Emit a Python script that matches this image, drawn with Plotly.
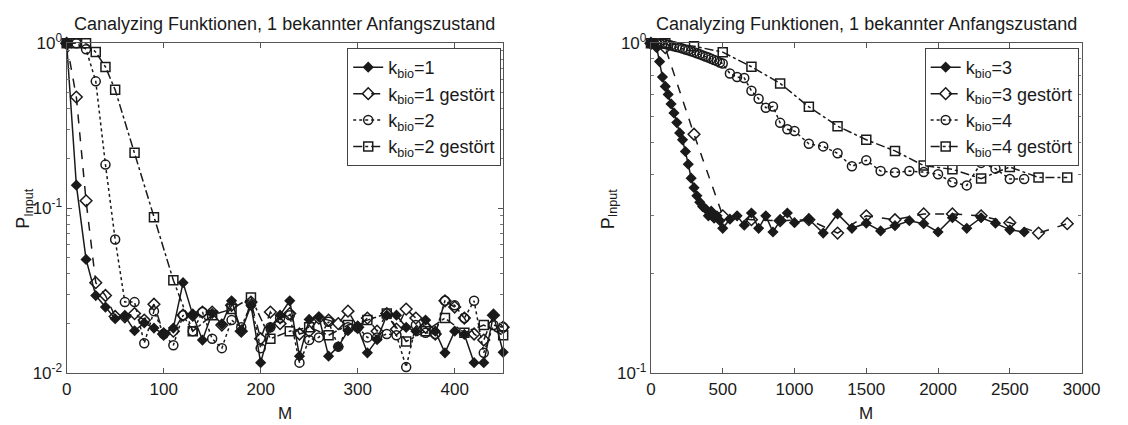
import plotly.graph_objects as go

# ---- left panel: k_bio = 1, 2 ----
m_left = list(range(0, 460, 10))
p_k1 = [1.0, 0.138, 0.049, 0.0296, 0.0252, 0.0214, 0.0222, 0.0181, 0.0202, 0.0188,
        0.0173, 0.0188, 0.0354, 0.0226, 0.0159, 0.0231, 0.0198, 0.0275, 0.018, 0.0258,
        0.0116, 0.019, 0.0225, 0.0275, 0.0127, 0.0212, 0.022, 0.0127, 0.0145, 0.0181,
        0.019, 0.0133, 0.016, 0.0225, 0.0225, 0.019, 0.018, 0.021, 0.018, 0.0133,
        0.018, 0.0172, 0.0116, 0.0116, 0.0225, 0.0134]
p_k1_noisy = [1.0, 0.472, 0.111, 0.0354, 0.0296, 0.0221, 0.022, 0.023, 0.021, 0.0262,
              0.0173, 0.018, 0.0225, 0.0225, 0.0235, 0.0235, 0.0196, 0.0258, 0.018, 0.027,
              0.0162, 0.0235, 0.020, 0.023, 0.0173, 0.018, 0.0216, 0.021, 0.020, 0.0238,
              0.019, 0.0216, 0.018, 0.023, 0.0185, 0.0245, 0.0216, 0.019, 0.0173, 0.0275,
              0.0252, 0.0216, 0.0173, 0.0159, 0.0225, 0.019]
p_k2 = [1.0, 1.0, 0.92, 0.588, 0.184, 0.0647, 0.027, 0.027, 0.0152, 0.0238,
        0.0173, 0.0148, 0.0225, 0.018, 0.0235, 0.0162, 0.0142, 0.021, 0.019, 0.0262,
        0.0142, 0.019, 0.0216, 0.0225, 0.0116, 0.0159, 0.0165, 0.0205, 0.0145, 0.019,
        0.019, 0.0165, 0.0165, 0.0173, 0.017, 0.0109, 0.0196, 0.0176, 0.0173, 0.0275,
        0.0258, 0.0216, 0.0275, 0.0133, 0.0196, 0.019]
m_k2_noisy = [0, 10, 20, 30, 40, 50] + list(range(70, 460, 20))
p_k2_noisy = [1.0, 1.0, 1.0, 0.884, 0.719, 0.522, 0.217, 0.0882, 0.0366, 0.018,
              0.0225, 0.0245, 0.0288, 0.0162, 0.018, 0.019, 0.017, 0.0196, 0.021, 0.023,
              0.0156, 0.018, 0.0216, 0.0176, 0.0196, 0.017]

# ---- right panel: k_bio = 3, 4 ----
m_right = list(range(0, 520, 20)) + list(range(550, 1050, 50)) + list(range(1100, 2700, 100))
p_k3 = [1.0, 1.0, 0.97, 0.88, 0.79, 0.74, 0.70, 0.655, 0.615, 0.575,
        0.535, 0.51, 0.47, 0.43, 0.39, 0.365, 0.345, 0.33, 0.32, 0.315,
        0.30, 0.31, 0.295, 0.30, 0.29, 0.275,
        0.293, 0.30, 0.281, 0.306, 0.275, 0.30, 0.268, 0.29, 0.306, 0.286,
        0.293, 0.266, 0.304, 0.275, 0.285, 0.27, 0.28, 0.29, 0.284, 0.268,
        0.296, 0.275, 0.296, 0.285, 0.272, 0.268]
p_k4 = [1.0, 1.0, 1.0, 1.0, 0.998, 0.995, 0.99, 0.985, 0.98, 0.975,
        0.97, 0.964, 0.958, 0.952, 0.946, 0.94, 0.933, 0.926, 0.919, 0.912,
        0.905, 0.897, 0.89, 0.883, 0.875, 0.868,
        0.81, 0.79, 0.785, 0.718, 0.679, 0.638, 0.643, 0.574, 0.549, 0.542,
        0.496, 0.487, 0.464, 0.424, 0.442, 0.41, 0.406, 0.41, 0.407, 0.401,
        0.379, 0.371, 0.434, 0.417, 0.388, 0.388]
m_right_noisy = [0, 100] + list(range(300, 3000, 200))
p_k3_noisy = [1.0, 0.97, 0.53, 0.30, 0.292, 0.29, 0.292, 0.266, 0.30, 0.292,
              0.304, 0.304, 0.30, 0.286, 0.266, 0.284]
p_k4_noisy = [1.0, 1.0, 0.98, 0.94, 0.849, 0.756, 0.642, 0.561, 0.51, 0.472,
              0.426, 0.415, 0.389, 0.422, 0.392, 0.392]

title_text = "Canalyzing Funktionen, 1 bekannter Anfangszustand"
INK = "#1a1a1a"
FONT = "Liberation Sans, Arial, sans-serif"
FS = 18

styles = [
    dict(dash="solid", symbol="diamond", size=7),
    dict(dash="dash", symbol="diamond-open", size=9),
    dict(dash="dot", symbol="circle-open", size=9),
    dict(dash="dashdot", symbol="square-open", size=9),
]

fig = go.Figure()

def add_series(x, y, style, name, xa, ya, legend):
    fig.add_trace(go.Scatter(
        x=x, y=y, name=name, mode="lines+markers",
        line=dict(color=INK, width=1.5, dash=style["dash"]),
        marker=dict(symbol=style["symbol"], size=style["size"], color=INK,
                    line=dict(color=INK, width=1.5)),
        xaxis=xa, yaxis=ya, legend=legend, cliponaxis=False,
    ))

add_series(m_left, p_k1, styles[0], "k<sub>bio</sub>=1", "x", "y", "legend")
add_series(m_left, p_k1_noisy, styles[1], "k<sub>bio</sub>=1 gestört", "x", "y", "legend")
add_series(m_left, p_k2, styles[2], "k<sub>bio</sub>=2", "x", "y", "legend")
add_series(m_k2_noisy, p_k2_noisy, styles[3], "k<sub>bio</sub>=2 gestört", "x", "y", "legend")

add_series(m_right, p_k3, styles[0], "k<sub>bio</sub>=3", "x2", "y2", "legend2")
add_series(m_right_noisy, p_k3_noisy, styles[1], "k<sub>bio</sub>=3 gestört", "x2", "y2", "legend2")
add_series(m_right, p_k4, styles[2], "k<sub>bio</sub>=4", "x2", "y2", "legend2")
add_series(m_right_noisy, p_k4_noisy, styles[3], "k<sub>bio</sub>=4 gestört", "x2", "y2", "legend2")

W, H = 1128, 425
left_dom = [63 / W, 509 / W]
right_dom = [660 / W, 1100 / W]
y_dom = [(H - 381) / H, (H - 33) / H]

axis_common = dict(
    showline=True, linecolor="#555", linewidth=1.2, mirror="ticks",
    ticks="inside", ticklen=5, tickcolor="#555", showgrid=False, zeroline=False,
    tickfont=dict(family=FONT, size=FS - 1, color=INK),
)

minor_left = [k * 10 ** e for e in (-2, -1) for k in range(2, 10)]
minor_right = [k * 0.1 for k in range(2, 10)]

legend_common = dict(
    xanchor="right", yanchor="top", bgcolor="white", bordercolor="#444",
    borderwidth=1, font=dict(family=FONT, size=FS, color=INK),
    tracegroupgap=0, itemwidth=30,
)

fig.update_layout(
    width=W, height=H, margin=dict(l=0, r=0, t=0, b=0),
    paper_bgcolor="white", plot_bgcolor="white",
    font=dict(family=FONT, size=FS, color=INK),
    xaxis=dict(domain=left_dom, range=[0, 450], anchor="y",
               tickvals=[0, 100, 200, 300, 400], **axis_common),
    yaxis=dict(domain=y_dom, type="log", range=[-2, 0], anchor="x",
               tickvals=[0.01, 0.1, 1],
               ticktext=["10<sup>-2</sup>", "10<sup>-1</sup>", "10<sup>0</sup>"],
               minor=dict(tickmode="array", tickvals=minor_left, ticks="inside",
                          ticklen=3, tickcolor="#777"),
               **axis_common),
    xaxis2=dict(domain=right_dom, range=[0, 3000], anchor="y2",
                tickvals=[0, 500, 1000, 1500, 2000, 2500, 3000], **axis_common),
    yaxis2=dict(domain=y_dom, type="log", range=[-1, 0], anchor="x2",
                tickvals=[0.1, 1],
                ticktext=["10<sup>-1</sup>", "10<sup>0</sup>"],
                minor=dict(tickmode="array", tickvals=minor_right, ticks="inside",
                           ticklen=3, tickcolor="#777"),
                **axis_common),
    legend=dict(x=507 / W, y=(H - 38) / H, **legend_common),
    legend2=dict(x=1097 / W, y=(H - 38) / H, **legend_common),
    showlegend=True,
)

annotations = []
for dom in (left_dom, right_dom):
    cx = (dom[0] + dom[1]) / 2
    annotations.append(dict(text=title_text, x=cx, y=(H - 13) / H, xref="paper", yref="paper",
                            xanchor="center", yanchor="middle", showarrow=False,
                            font=dict(family=FONT, size=FS, color=INK)))
    annotations.append(dict(text="M", x=cx, y=-9 / H, xref="paper", yref="paper",
                            xanchor="center", yanchor="bottom", showarrow=False,
                            borderpad=0, font=dict(family=FONT, size=FS - 1, color=INK)))
for px in (20, 617):
    annotations.append(dict(text="P<sub>Input</sub>", x=px / W, y=(H - 207) / H,
                            xref="paper", yref="paper", textangle=-90,
                            xanchor="center", yanchor="middle", showarrow=False,
                            font=dict(family=FONT, size=FS, color=INK)))
fig.update_layout(annotations=annotations)

fig.write_html("out.html")
